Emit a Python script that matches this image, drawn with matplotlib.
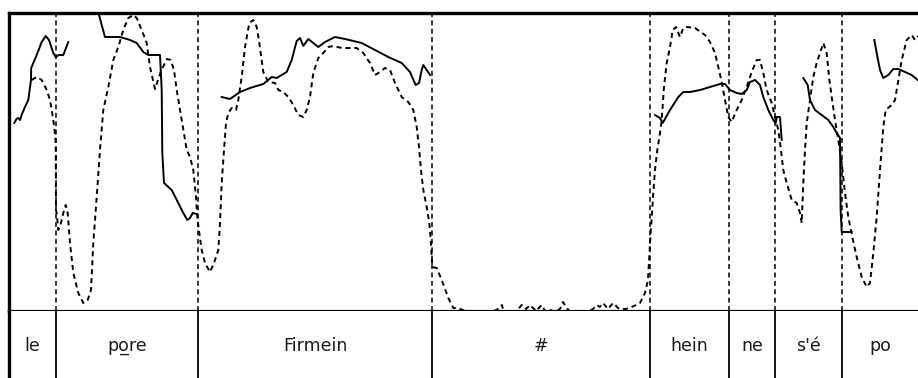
import numpy as np
import matplotlib
matplotlib.use("Agg")
import matplotlib.pyplot as plt

# ---------------- data ----------------
# segment boundaries (time, frames) and segment labels
boundaries = [56, 198, 432, 650, 729, 775, 842]
labels = ["le", "po\u0332re", "Firmein", "#", "hein", "ne", "s'é", "po"]

# intensity curve (dashed): time (frames) and level
int_t = [31.7, 36.7, 41.7, 46.7, 50, 51.7, 54.3, 55.7, 55.8, 56, 56.7, 58.3, 61, 63.3, 65.7, 67.7,
         70, 73.3, 78.3, 83.3, 87.7, 91, 93.3, 96.7, 100, 103.3, 108.3, 113.3, 118.3, 123.3, 128.3,
         133.3, 136.7, 141.7, 146.7, 150, 155, 161, 167, 170.7, 174, 176.7, 180, 183.3, 186.7, 190,
         193.3, 196, 197.3, 199.3, 201.7, 205, 210, 214, 218.3, 220, 221.7, 224, 226, 228.3, 231.7,
         236, 238.3, 241.7, 245, 249.3, 253.3, 256.7, 259.3, 263.3, 268.3, 275, 278.3, 283.3, 288.3,
         293.3, 298.3, 303.3, 306.7, 310, 313.3, 318.3, 323.3, 328.3, 333.3, 341.7, 356.7, 363.3,
         370, 375, 380, 385, 390, 395, 401.7, 408.3, 413.3, 416.7, 419, 421, 423.3, 426.7, 429.3,
         431, 432.3, 436.7, 441.7, 448.3, 453.3, 458, 470, 490, 500, 502, 504, 515, 521.7, 526, 530,
         536, 541.7, 545, 548, 555, 560, 563, 566.7, 572, 585, 593, 596.7, 600, 603, 608, 613, 618,
         621.7, 626, 631.7, 636, 640, 645, 648, 650, 651.7, 653.3, 655, 657.3, 660, 661.7, 664,
         666.7, 670, 672.7, 676, 680, 683.3, 687.3, 695, 705, 710, 715, 718.3, 721.7, 725, 728.3,
         731.7, 736.7, 741.7, 746.7, 751.7, 756.7, 760, 763.3, 766.7, 771.7, 775, 778.3, 781, 783.3,
         786.7, 791.7, 796.7, 800, 801.7, 803.3, 805, 806.7, 810, 813.3, 816.7, 820, 823.3, 826.7,
         829, 831.7, 835, 838.3, 841.7, 845, 848.3, 852.3, 856.7, 861.7, 866.7, 870, 873.3, 876.7,
         880, 883.3, 885.7, 891.7, 895, 898.3, 901.7, 906.7, 911.7, 915, 918]
int_v = [231, 234, 231, 221, 211, 201, 184, 168, 148, 101, 98, 81, 88, 98, 106, 98,
         68, 38, 18, 8, 11, 21, 68, 114, 161, 201, 224, 251, 264, 281, 293,
         296, 293, 281, 268, 244, 222, 240, 252, 251, 241, 221, 201, 181, 161, 154,
         141, 114, 94, 78, 61, 48, 39, 48, 61, 88, 128, 161, 188, 198, 203,
         201, 211, 234, 264, 288, 291, 284, 268, 239, 229, 228, 221, 219, 214,
         206, 196, 194, 201, 214, 238, 253, 258, 264, 265, 263, 263, 258,
         248, 236, 239, 243, 241, 228, 214, 209, 201, 184, 164, 141, 121, 104, 88,
         68, 44, 43, 31, 13, 3, 3, -2, -2, 3, 6, -2, -2, 6, 2, 6,
         0, 6, 0, 2, -1, 2, 9, 3, -3, -2, 2, 6, 4, 8, 2, 8, 3,
         2, 2, 4, 6, 8, 18, 31, 68, 94, 118, 141, 161, 178, 191, 224,
         248, 264, 281, 284, 274, 283, 284, 283, 276, 269, 258, 244, 229, 211, 194,
         189, 201, 211, 224, 239, 251, 251, 238, 221, 208, 194, 181, 161, 141,
         128, 111, 108, 98, 88, 128, 161, 188, 211, 234, 248, 258, 268, 258,
         234, 214, 191, 171, 148, 118, 94, 74, 54, 34, 24, 28, 58, 94,
         141, 184, 201, 206, 211, 231, 251, 271, 276, 271, 275]

# pitch curve (solid): voiced stretches separated by NaN
pitch_t = [14.3, 16.5, 18.3, 20, 22, 25, 28.3, 31, 31.2, 36.7, 41.7, 45.7, 49, 53.3, 55.7, 59, 63.3, 68.3,
           np.nan,
           97.5, 101.7, 105, 120, 130, 136.7, 143.3, 148.3, 160, 161.7, 162.3, 164, 171.7, 178.3, 183.3,
           187.3, 190, 192.7, 196.7,
           np.nan,
           221.7, 230, 240, 250, 263.3, 271.7, 276.7, 286.7, 291.7, 296.7, 300, 303.3, 308.3, 313.3,
           318.3, 325, 335, 345, 361.7, 375, 388.3, 401.7, 410, 415.7, 419, 421.7, 423.3, 426.7, 430,
           np.nan,
           655, 660, 662.7, 670, 678.3, 683.3, 690, 700, 710, 720, 725, 730, 736.7, 741.7, 746.7, 750,
           755, 760, 763.3, 768.3, 773.3, 775.7, 776.7, 780, 781.7,
           np.nan,
           803.3, 807.7, 810, 815, 821.7, 828.3, 833.3, 836.7, 840, 840.3, 840.6, 841.7, 851.7,
           np.nan,
           874.3, 876.7, 880, 883.3, 888.3, 893.3, 898.3, 905, 911.7, 917.7]
pitch_v = [188, 192, 193, 191, 197, 204, 211, 231, 243, 256, 269, 275, 271, 258, 254, 256, 256, 269,
           np.nan,
           302, 286, 274, 274, 271, 268, 259, 256, 256, 221, 158, 128, 121, 108, 98,
           91, 93, 98, 97,
           np.nan,
           214, 212, 219, 223, 227, 234, 233, 239, 251, 270, 273, 265, 272, 268,
           264, 269, 274, 272, 268, 261, 254, 248, 239, 226, 228, 241, 246, 241, 236,
           np.nan,
           196, 193, 188, 201, 214, 219, 219, 221, 224, 227, 227, 221, 218, 217, 221, 229,
           231, 226, 214, 201, 191, 188, 194, 194, 171,
           np.nan,
           233, 226, 211, 201, 196, 191, 184, 178, 173, 141, 101, 79, 79,
           np.nan,
           271, 258, 241, 233, 236, 242, 242, 239, 236, 231]

# ---------------- figure ----------------
W, H = 918, 378
fig = plt.figure(figsize=(W / 100, H / 100), dpi=100)
fig.patch.set_facecolor("white")

x0, x1 = 9, 918
top_px, mid_px = 13, 311

ax = fig.add_axes([x0 / W, 1 - mid_px / H, (x1 - x0) / W, (mid_px - top_px) / H])
axl = fig.add_axes([x0 / W, 0, (x1 - x0) / W, (H - mid_px) / H])

for a in (ax, axl):
    a.set_xlim(x0, x1)
    a.set_xticks([])
    a.set_yticks([])
    a.spines["right"].set_visible(False)
    a.spines["left"].set_linewidth(2.4)

ax.set_ylim(0, 298)
ax.spines["top"].set_linewidth(2.4)
ax.spines["bottom"].set_linewidth(1.6)
axl.spines["top"].set_visible(False)
axl.spines["bottom"].set_visible(False)
axl.set_ylim(0, 1)

# boundaries
for b in boundaries:
    ax.axvline(b, color="black", lw=1.1, linestyle=(0, (3.2, 2.3)))
    axl.axvline(b, color="black", lw=1.3)

# curves
ax.plot(int_t, int_v, color="black", lw=1.4, linestyle=(0, (2.6, 2.0)))
ax.plot(pitch_t, pitch_v, color="black", lw=1.4)

# labels
edges = [x0] + boundaries + [x1]
for i, lab in enumerate(labels):
    cx = (edges[i] + edges[i + 1]) / 2
    axl.text(cx, 0.48, lab, ha="center", va="center", fontsize=12.5,
             color="#1a1a1a", family="DejaVu Sans")

fig.savefig("out.png", dpi=100, facecolor="white")
